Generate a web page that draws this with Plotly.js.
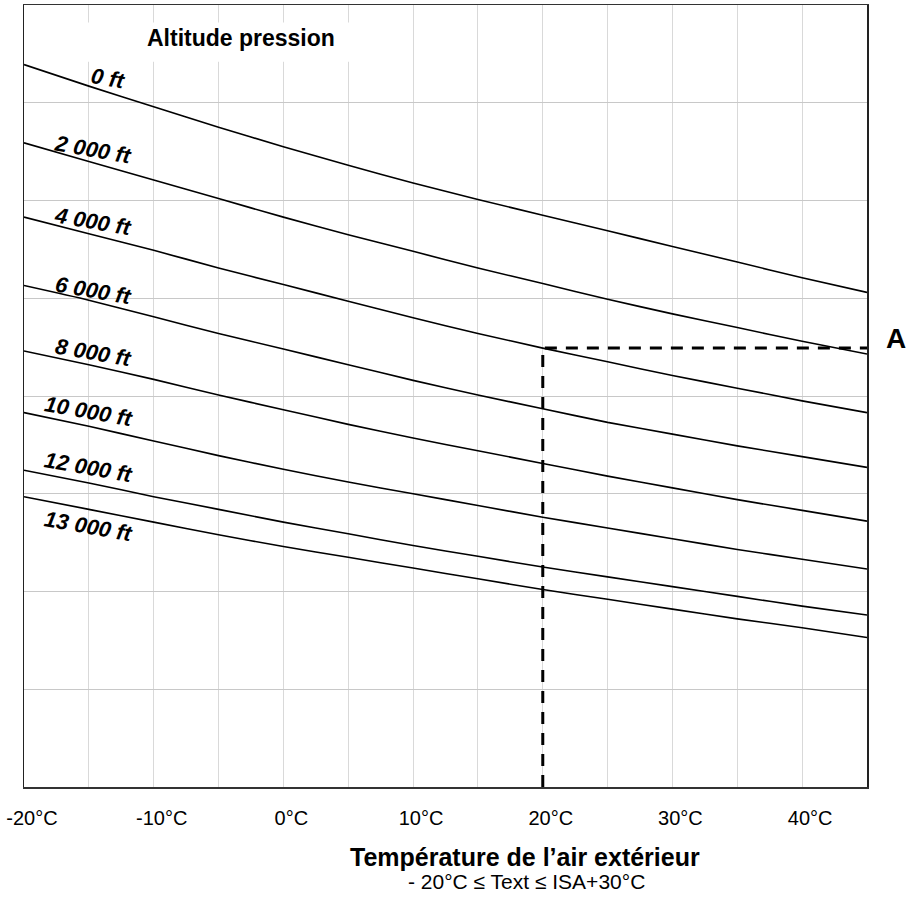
<!DOCTYPE html>
<html>
<head>
<meta charset="utf-8">
<script src="https://cdn.plot.ly/plotly-3.0.1.min.js"></script>
<style>
  html, body { margin: 0; padding: 0; background: #ffffff; }
  #chart { width: 913px; height: 898px; }
</style>
</head>
<body>
<div id="chart"></div>
<script>
// ---- data ----
const temperatures = [-20, -15, -10, -5, 0, 5, 10, 15, 20, 25, 30, 35, 40, 45];

const alt0ft     = [7.39, 7.17, 6.96, 6.75, 6.55, 6.36, 6.18, 6.01, 5.85, 5.69, 5.53, 5.37, 5.21, 5.06];
const alt2000ft  = [6.59, 6.40, 6.21, 6.02, 5.83, 5.65, 5.48, 5.31, 5.15, 4.99, 4.84, 4.70, 4.56, 4.43];
const alt4000ft  = [5.83, 5.66, 5.49, 5.31, 5.14, 4.97, 4.80, 4.64, 4.49, 4.35, 4.21, 4.08, 3.95, 3.83];
const alt6000ft  = [5.13, 4.98, 4.81, 4.64, 4.48, 4.32, 4.16, 4.01, 3.87, 3.73, 3.61, 3.49, 3.38, 3.27];
const alt8000ft  = [4.46, 4.32, 4.17, 4.01, 3.86, 3.71, 3.57, 3.44, 3.31, 3.18, 3.06, 2.94, 2.83, 2.72];
const alt10000ft = [3.83, 3.69, 3.54, 3.39, 3.25, 3.12, 3.00, 2.88, 2.76, 2.65, 2.54, 2.43, 2.33, 2.23];
const alt12000ft = [3.24, 3.11, 2.97, 2.84, 2.71, 2.59, 2.47, 2.36, 2.25, 2.15, 2.05, 1.95, 1.85, 1.76];
const alt13000ft = [2.97, 2.84, 2.71, 2.58, 2.46, 2.35, 2.24, 2.13, 2.02, 1.92, 1.82, 1.72, 1.63, 1.53];

const curveNames = ['0 ft', '2 000 ft', '4 000 ft', '6 000 ft', '8 000 ft', '10 000 ft', '12 000 ft', '13 000 ft'];
const curveValues = [alt0ft, alt2000ft, alt4000ft, alt6000ft, alt8000ft, alt10000ft, alt12000ft, alt13000ft];

const tickValues = [-20, -10, 0, 10, 20, 30, 40];
const tickLabels = ['-20°C', '-10°C', '0°C', '10°C', '20°C', '30°C', '40°C'];

const exampleTemp = 20;          // example reading: OAT
const exampleCurve = 2;          // on the 4 000 ft curve
const exampleLabel = 'A';

const legendTitle = 'Altitude pression';
const xTitle = 'Température de l’air extérieur';
const xSubtitle = '- 20°C ≤ Text ≤ ISA+30°C';

// ---- traces ----
const traces = curveValues.map((vals, i) => ({
  type: 'scatter', mode: 'lines',
  x: temperatures, y: vals, name: curveNames[i],
  line: { color: '#000000', width: 1.6, shape: 'spline', smoothing: 0.6 },
  hoverinfo: 'skip', showlegend: false
}));

const tMax = temperatures[temperatures.length - 1];
const yA = curveValues[exampleCurve][temperatures.indexOf(exampleTemp)];
traces.push({
  type: 'scatter', mode: 'lines',
  x: [exampleTemp, exampleTemp, tMax],
  y: [0, yA, yA],
  line: { color: '#000000', width: 3, dash: '12px,9px' },
  hoverinfo: 'skip', showlegend: false
});

// ---- label placement (layout only) ----
const labelAnchorX = [-13.45, -14.7, -14.65, -14.65, -14.65, -14.95, -14.95, -14.95];
const labelAnchorY = [7.25, 6.52, 5.79, 5.08, 4.44, 3.84, 3.27, 2.67];

const curveFont = {
  family: "'Liberation Sans', Arial, sans-serif",
  size: 22, color: '#000000', weight: 'bold', style: 'italic'
};

const annotations = curveNames.map((name, i) => ({
  xref: 'x', yref: 'y', x: labelAnchorX[i], y: labelAnchorY[i],
  text: name, showarrow: false, textangle: 10,
  xanchor: 'center', yanchor: 'middle', font: curveFont
}));

annotations.push({
  xref: 'paper', yref: 'paper', x: 0.258, y: 0.958,
  text: '<b>' + legendTitle + '</b>', showarrow: false,
  xanchor: 'center', yanchor: 'middle',
  font: { family: 'Liberation Sans, Arial, sans-serif', size: 23, color: '#000000' }
});

annotations.push({
  xref: 'paper', yref: 'y', x: 1.0344, y: yA,
  text: '<b>' + exampleLabel + '</b>', showarrow: false,
  xanchor: 'center', yanchor: 'middle', yshift: 10,
  font: { family: 'Liberation Sans, Arial, sans-serif', size: 28, color: '#000000' }
});

annotations.push({
  xref: 'paper', yref: 'paper', x: 0.594, y: -0.09,
  text: '<b>' + xTitle + '</b>', showarrow: false,
  xanchor: 'center', yanchor: 'middle',
  font: { family: 'Liberation Sans, Arial, sans-serif', size: 25, color: '#000000' }
});
annotations.push({
  xref: 'paper', yref: 'paper', x: 0.596, y: -0.121,
  text: xSubtitle, showarrow: false,
  xanchor: 'center', yanchor: 'middle',
  font: { family: 'Liberation Sans, Arial, sans-serif', size: 21, color: '#000000' }
});

const layout = {
  width: 913, height: 898,
  margin: { l: 24, r: 46, t: 5, b: 111 },
  paper_bgcolor: '#ffffff', plot_bgcolor: '#ffffff',
  showlegend: false,
  xaxis: {
    range: [-20, 45], tickmode: 'array', tickvals: tickValues, ticktext: tickLabels,
    ticks: '', showgrid: true, gridcolor: '#d9d9d9', gridwidth: 1,
    minor: { dtick: 5, tick0: -20, showgrid: true, gridcolor: '#d9d9d9', gridwidth: 1, ticks: '' },
    zeroline: false, showline: true, linecolor: '#333333', linewidth: 1.5, mirror: true,
    ticklabelshift: 8, ticklabelstandoff: 12,
    tickfont: { family: 'Liberation Sans, Arial, sans-serif', size: 20, color: '#000000' },
    fixedrange: true
  },
  yaxis: {
    range: [0, 8], dtick: 1, tick0: 0, showticklabels: false, ticks: '',
    showgrid: true, gridcolor: '#c8c8c8', gridwidth: 1,
    zeroline: false, showline: true, linecolor: '#222222', linewidth: 1.5, mirror: true,
    fixedrange: true
  },
  shapes: [{
    type: 'rect', xref: 'x', yref: 'y', layer: 'above',
    x0: -15.7, x1: 5.6, y0: 7.42, y1: 7.82,
    fillcolor: '#ffffff', line: { width: 0 }
  }],
  annotations: annotations
};

Plotly.newPlot('chart', traces, layout, { displayModeBar: false, staticPlot: true });
</script>
</body>
</html>
